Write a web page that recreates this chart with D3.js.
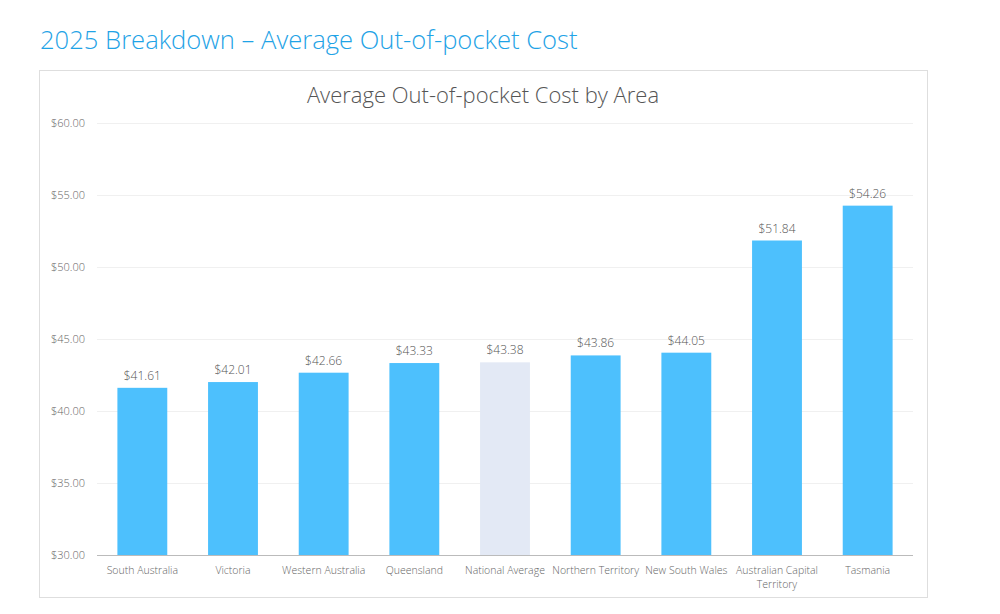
<!DOCTYPE html>
<html>
<head>
<meta charset="utf-8">
<script src="https://cdn.jsdelivr.net/npm/d3@7"></script>
<style>
  html, body { margin: 0; padding: 0; background: #fff; }
  svg { display: block; font-family: "Open Sans", sans-serif; }
</style>
</head>
<body>
<svg id="chart" width="1000" height="614"></svg>
<script>
const categories = ["South Australia", "Victoria", "Western Australia", "Queensland", "National Average", "Northern Territory", "New South Wales", "Australian Capital Territory", "Tasmania"];
const values = [41.61, 42.01, 42.66, 43.33, 43.38, 43.86, 44.05, 51.84, 54.26];
const highlight = ["National Average"];
const yTicks = [30, 35, 40, 45, 50, 55, 60];
const pageTitle = "2025 Breakdown \u2013 Average Out-of-pocket Cost";
const chartTitle = "Average Out-of-pocket Cost by Area";

const svg = d3.select("#chart");
const plot = { left: 97, right: 913, top: 123, bottom: 555 };

// page title
svg.append("text")
  .attr("x", 40).attr("y", 49)
  .attr("fill", "#1fa3e6")
  .attr("font-size", 25.6)
  .attr("font-weight", 300)
  .text(pageTitle);

// chart container
svg.append("rect")
  .attr("x", 39.5).attr("y", 70.5)
  .attr("width", 888).attr("height", 527)
  .attr("fill", "#fff")
  .attr("stroke", "#dedede").attr("stroke-width", 1);

svg.append("text")
  .attr("x", 483).attr("y", 103)
  .attr("text-anchor", "middle")
  .attr("fill", "#555")
  .attr("font-size", 22)
  .attr("font-weight", 300)
  .text(chartTitle);

const x = d3.scaleBand().domain(categories).range([plot.left, plot.right]).paddingInner(0.45).paddingOuter(0.225);
const y = d3.scaleLinear().domain([30, 60]).range([plot.bottom, plot.top]);

// gridlines
svg.append("g").selectAll("line").data(yTicks.slice(1)).join("line")
  .attr("x1", plot.left).attr("x2", plot.right)
  .attr("y1", d => Math.round(y(d)) + 0.5).attr("y2", d => Math.round(y(d)) + 0.5)
  .attr("stroke", "#f0f0f0");

// y axis
const yAxis = svg.append("g")
  .attr("transform", `translate(${plot.left - 12},0)`)
  .call(d3.axisLeft(y).tickValues(yTicks).tickSize(0).tickFormat(d => "$" + d3.format(".2f")(d)));
yAxis.select(".domain").remove();
yAxis.selectAll("text")
  .attr("fill", "#666").attr("font-size", 11).attr("font-weight", 300)
  .attr("font-family", "Open Sans, sans-serif").attr("x", 0);

// bars
svg.append("g").selectAll("rect").data(categories).join("rect")
  .attr("x", d => x(d))
  .attr("width", x.bandwidth())
  .attr("y", (d, i) => y(values[i]))
  .attr("height", (d, i) => y(30) - y(values[i]))
  .attr("fill", d => highlight.includes(d) ? "#e3e9f5" : "#4dc0fd");

// value labels
svg.append("g").selectAll("text").data(categories).join("text")
  .attr("x", d => x(d) + x.bandwidth() / 2)
  .attr("y", (d, i) => y(values[i]) - 8)
  .attr("text-anchor", "middle")
  .attr("fill", "#555")
  .attr("font-size", 12)
  .attr("font-weight", 300)
  .text((d, i) => "$" + d3.format(".2f")(values[i]));

// x axis
const xAxis = svg.append("g")
  .attr("transform", `translate(0,${plot.bottom})`)
  .call(d3.axisBottom(x).tickSize(0).tickPadding(0));
xAxis.select(".domain").attr("stroke", "#bbb").attr("d", `M${plot.left},0.5H${plot.right}`);
xAxis.selectAll(".tick text").remove();
xAxis.selectAll(".tick").each(function(d) {
  const g = d3.select(this);
  const lines = d === "Australian Capital Territory" ? ["Australian Capital", "Territory"] : [d];
  const t = g.append("text")
    .attr("text-anchor", "middle")
    .attr("fill", "#666")
    .attr("font-size", 10.5)
    .attr("font-weight", 300)
    .attr("font-family", "Open Sans, sans-serif");
  lines.forEach((l, i) => t.append("tspan").attr("x", 0).attr("y", 19 + i * 14).text(l));
});
</script>
</body>
</html>
